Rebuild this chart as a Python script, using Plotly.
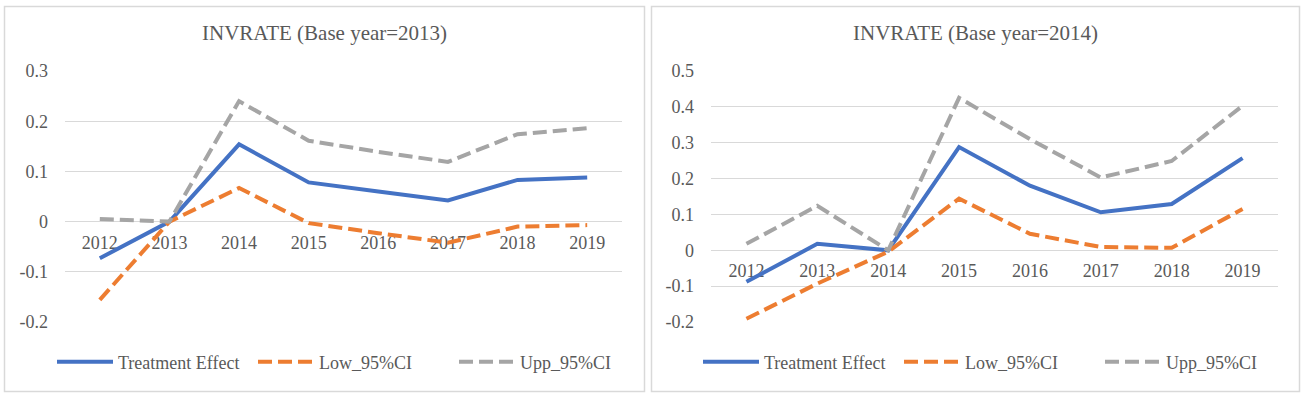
import plotly.graph_objects as go

years = ["2012", "2013", "2014", "2015", "2016", "2017", "2018", "2019"]

# Panel 1: Base year = 2013
te_2013 = [-0.073, 0.0, 0.154, 0.078, 0.060, 0.042, 0.083, 0.088]
low_2013 = [-0.156, 0.0, 0.067, -0.003, -0.023, -0.042, -0.010, -0.007]
upp_2013 = [0.005, 0.0, 0.240, 0.161, 0.139, 0.119, 0.174, 0.186]

# Panel 2: Base year = 2014
te_2014 = [-0.088, 0.018, 0.0, 0.288, 0.180, 0.106, 0.129, 0.257]
low_2014 = [-0.191, -0.093, -0.004, 0.144, 0.046, 0.009, 0.007, 0.115]
upp_2014 = [0.018, 0.124, 0.0, 0.425, 0.310, 0.203, 0.249, 0.403]

titles = ["INVRATE (Base year=2013)", "INVRATE (Base year=2014)"]
series_names = ["Treatment Effect", "Low_95%CI", "Upp_95%CI"]

y1_ticks = [-0.2, -0.1, 0.0, 0.1, 0.2, 0.3]
y1_text = ["-0.2", "-0.1", "0", "0.1", "0.2", "0.3"]
y2_ticks = [-0.2, -0.1, 0.0, 0.1, 0.2, 0.3, 0.4, 0.5]
y2_text = ["-0.2", "-0.1", "0", "0.1", "0.2", "0.3", "0.4", "0.5"]

W, H = 1303, 397
FONT = "Liberation Serif"
TXT = "#595959"
GRID = "#D9D9D9"
colors = ["#4472C4", "#ED7D31", "#A5A5A5"]
dashes = ["solid", "14px,6px", "14px,6px"]
LW = 4

fig = go.Figure()

panels = [
    (te_2013, low_2013, upp_2013, "x", "y", "legend"),
    (te_2014, low_2014, upp_2014, "x2", "y2", "legend2"),
]
for te, lo, up, xa, ya, lg in panels:
    for name, vals, c, d in zip(series_names, [te, lo, up], colors, dashes):
        fig.add_trace(go.Scatter(
            x=years, y=vals, name=name, mode="lines",
            line=dict(color=c, width=LW, dash=d),
            xaxis=xa, yaxis=ya, legend=lg, hoverinfo="skip",
        ))

ydom = [1 - 322 / H, 1 - 71 / H]
x1dom = [65 / W, 622 / W]
x2dom = [711 / W, 1278 / W]
r1 = [-0.2, 0.3]
r2 = [-0.2, 0.5]


def zero_pos(r):
    return ydom[0] + (0 - r[0]) / (r[1] - r[0]) * (ydom[1] - ydom[0])


common_x = dict(type="category", range=[-0.5, 7.5], showgrid=False, zeroline=False,
                showline=False, ticks="", anchor="free", layer="below traces",
                tickfont=dict(family=FONT, size=18, color=TXT), ticklabelstandoff=8,
                fixedrange=True)
common_y = dict(showgrid=True, gridcolor=GRID, gridwidth=1.3, zeroline=True,
                zerolinecolor=GRID, zerolinewidth=1.3, showline=False, ticks="",
                tickfont=dict(family=FONT, size=18, color=TXT), ticklabelstandoff=16,
                fixedrange=True)

legend_common = dict(orientation="h", y=1 - 362 / H, xanchor="left", yanchor="middle",
                     font=dict(family=FONT, size=18, color=TXT), itemwidth=56,
                     entrywidth=130, entrywidthmode="pixels",
                     bgcolor="rgba(0,0,0,0)")

fig.update_layout(
    width=W, height=H,
    margin=dict(l=0, r=0, t=0, b=0, autoexpand=False),
    paper_bgcolor="white", plot_bgcolor="white",
    xaxis=dict(domain=x1dom, position=zero_pos(r1), **common_x),
    yaxis=dict(domain=ydom, range=r1, tickvals=y1_ticks, ticktext=y1_text, anchor="x", **common_y),
    xaxis2=dict(domain=x2dom, position=zero_pos(r2), **common_x),
    yaxis2=dict(domain=ydom, range=r2, tickvals=y2_ticks, ticktext=y2_text, anchor="x2", **common_y),
    legend=dict(x=52 / W, **legend_common),
    legend2=dict(x=698 / W, **legend_common),
    shapes=[
        dict(type="rect", xref="paper", yref="paper", x0=4.5 / W, x1=644.5 / W,
             y0=1 - 391.5 / H, y1=1 - 6.5 / H, line=dict(color=GRID, width=1.5), layer="below"),
        dict(type="rect", xref="paper", yref="paper", x0=651.5 / W, x1=1299.5 / W,
             y0=1 - 391.5 / H, y1=1 - 6.5 / H, line=dict(color=GRID, width=1.5), layer="below"),
    ],
    annotations=[
        dict(text=titles[0], x=324 / W, y=1 - 33 / H, xref="paper", yref="paper",
             xanchor="center", yanchor="middle",
             showarrow=False, font=dict(family=FONT, size=21, color=TXT)),
        dict(text=titles[1], x=975 / W, y=1 - 33 / H, xref="paper", yref="paper",
             xanchor="center", yanchor="middle",
             showarrow=False, font=dict(family=FONT, size=21, color=TXT)),
    ],
)

fig.write_html("out.html", config={"displayModeBar": False},
               post_script="document.body.style.margin='0';")
